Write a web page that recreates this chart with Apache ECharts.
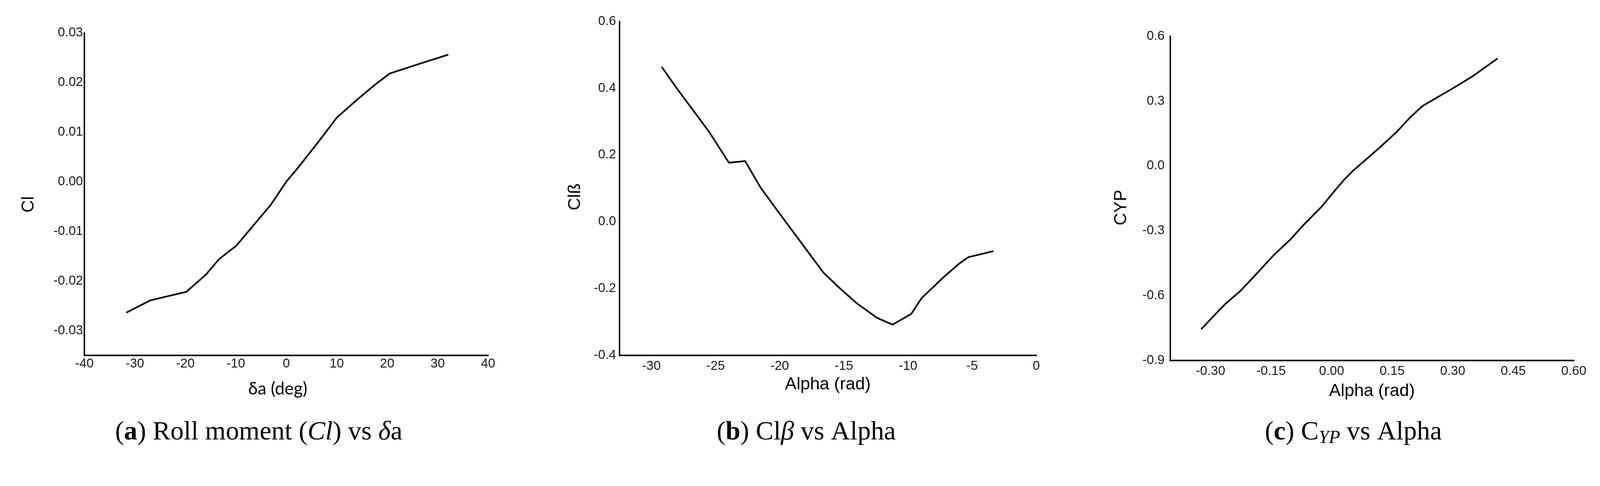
<!DOCTYPE html>
<html>
<head>
<meta charset="utf-8">
<title>Roll moment, Clβ, CYP</title>
<script src="https://cdn.jsdelivr.net/npm/echarts@6.0.0/dist/echarts.min.js"></script>
<style>
  html, body { margin: 0; padding: 0; background: #fff; overflow: hidden; }
  #chart { width: 100vw; height: 100vh; }
</style>
</head>
<body>
<div id="chart"></div>
<script>
// (a) roll moment Cl vs aileron deflection (deg)
var rollDelta = [-31.7, -26.9, -19.8, -16.0, -13.3, -9.9, -6.5, -3.1, 0, 2.4, 6.5, 10.0, 14.0, 17.4, 20.5, 25.6, 32.1];
var rollCl = [-0.0264, -0.0239, -0.0222, -0.0188, -0.0156, -0.0129, -0.0088, -0.0047, 0, 0.0029, 0.0082, 0.0129, 0.0165, 0.0194, 0.0218, 0.0235, 0.0256];
var rollXTicks = [-40, -30, -20, -10, 0, 10, 20, 30, 40];
var rollYTicks = [-0.03, -0.02, -0.01, 0, 0.01, 0.02, 0.03];

// (b) Clβ vs alpha
var clbAlpha = [-29.2, -28.05, -26.6, -25.5, -24.7, -23.96, -23.1, -22.7, -21.5, -20.0, -18.3, -16.6, -15.4, -14.0, -12.4, -11.2, -9.75, -8.95, -7.2, -6.0, -5.3, -3.35];
var clbValue = [0.464, 0.401, 0.326, 0.269, 0.221, 0.177, 0.180, 0.182, 0.103, 0.024, -0.064, -0.152, -0.196, -0.244, -0.288, -0.308, -0.276, -0.229, -0.165, -0.125, -0.106, -0.088];
var clbXTicks = [-30, -25, -20, -15, -10, -5, 0];
var clbYTicks = [-0.4, -0.2, 0, 0.2, 0.4, 0.6];

// (c) CYP vs alpha
var cypAlpha = [-0.323, -0.287, -0.262, -0.228, -0.190, -0.143, -0.101, -0.068, -0.025, 0.008, 0.030, 0.051, 0.076, 0.118, 0.161, 0.195, 0.225, 0.271, 0.314, 0.352, 0.411];
var cypValue = [-0.755, -0.684, -0.636, -0.582, -0.507, -0.412, -0.338, -0.270, -0.189, -0.114, -0.066, -0.026, 0.015, 0.083, 0.157, 0.225, 0.277, 0.327, 0.374, 0.418, 0.497];
var cypXTicks = [-0.30, -0.15, 0, 0.15, 0.30, 0.45, 0.60];
var cypYTicks = [-0.9, -0.6, -0.3, 0, 0.3, 0.6];

var sans = '"Liberation Sans", Arial, sans-serif';
var serif = '"Palatino Linotype", "Book Antiqua", "Liberation Serif", serif';

// layout is measured on a 4340 x 1243 page; scale to whatever the window really is
var s = Math.min(window.innerWidth / 4340, window.innerHeight / 1243);
function px(v) { return v * s; }

function pairs(xs, ys) {
  return xs.map(function (x, i) { return [x, ys[i]]; });
}

function axis(idx, min, max, ticks, digits, margin, name, nameGap, namePad, nameFont) {
  return {
    type: 'value',
    gridIndex: idx,
    min: min,
    max: max,
    name: name,
    nameLocation: 'middle',
    nameGap: px(nameGap),
    nameTextStyle: {
      fontFamily: nameFont || sans,
      fontSize: px(47),
      color: '#000',
      padding: namePad.map(px)
    },
    axisLine: { show: true, onZero: false, lineStyle: { color: '#000', width: px(4) } },
    axisTick: { show: false },
    splitLine: { show: false },
    axisLabel: {
      customValues: ticks,
      margin: px(margin),
      fontFamily: sans,
      fontSize: px(35),
      color: '#1a1a1a',
      formatter: function (v) { return Number(v).toFixed(digits); }
    }
  };
}

function line(idx, data) {
  return {
    type: 'line',
    xAxisIndex: idx,
    yAxisIndex: idx,
    data: data,
    showSymbol: false,
    symbol: 'none',
    lineStyle: { color: '#000', width: px(4.5) },
    animation: false
  };
}

var capStyle = {
  p: { fontFamily: serif, fontSize: px(72), lineHeight: px(80), fill: '#000' },
  b: { fontFamily: serif, fontSize: px(72), lineHeight: px(80), fontWeight: 'bold', fill: '#000' },
  i: { fontFamily: serif, fontSize: px(72), lineHeight: px(80), fontStyle: 'italic', fill: '#000' },
  s: { fontFamily: serif, fontSize: px(50), lineHeight: px(36), fontStyle: 'italic', verticalAlign: 'bottom', fill: '#000' }
};

function caption(cx, text) {
  return {
    type: 'text',
    x: px(cx),
    y: px(1172),
    style: {
      text: text,
      rich: capStyle,
      align: 'center',
      verticalAlign: 'middle',
      fontFamily: serif,
      fontSize: px(72),
      fill: '#000'
    }
  };
}

var chart = echarts.init(document.getElementById('chart'), null, { renderer: 'canvas' });

chart.setOption({
  backgroundColor: '#fff',
  animation: false,
  grid: [
    { left: px(229), top: px(89), width: px(1095), height: px(874), outerBoundsMode: 'none' },
    { left: px(1680), top: px(58), width: px(1131), height: px(905), outerBoundsMode: 'none' },
    { left: px(3174), top: px(98), width: px(1095), height: px(879), outerBoundsMode: 'none' }
  ],
  xAxis: [
    axis(0, -40, 40, rollXTicks, 0, 6, 'δa (deg)', 68, [0, 46, 0, 0], 'Lato, "Open Sans", sans-serif'),
    axis(1, -32.5, 0, clbXTicks, 0, 12, 'Alpha (rad)', 56, [0, 0, 0, 0]),
    axis(2, -0.4, 0.6, cypXTicks, 2, 12, 'Alpha (rad)', 60, [0, 0, 0, 0])
  ],
  yAxis: [
    axis(0, -0.035, 0.03, rollYTicks, 2, 4, 'Cl', 128, [0, 56, 0, 0]),
    axis(1, -0.4, 0.6, clbYTicks, 1, 9, 'Clß', 96, [0, 46, 0, 0]),
    axis(2, -0.9, 0.6, cypYTicks, 1, 15, 'CYP', 109, [0, 50, 0, 0])
  ],
  series: [
    line(0, pairs(rollDelta, rollCl)),
    line(1, pairs(clbAlpha, clbValue)),
    line(2, pairs(cypAlpha, cypValue))
  ],
  graphic: [
    caption(702, '{p|(}{b|a}{p|)} {p|Roll moment (}{i|Cl}{p|) vs }{i|δ}{p|a}'),
    caption(2187, '{p|(}{b|b}{p|)} {p|Cl}{i|β}{p| vs Alpha}'),
    caption(3671, '{p|(}{b|c}{p|)} {p|C}{s|YP}{p| vs Alpha}')
  ]
});

window.addEventListener('resize', function () { chart.resize(); });
</script>
</body>
</html>
